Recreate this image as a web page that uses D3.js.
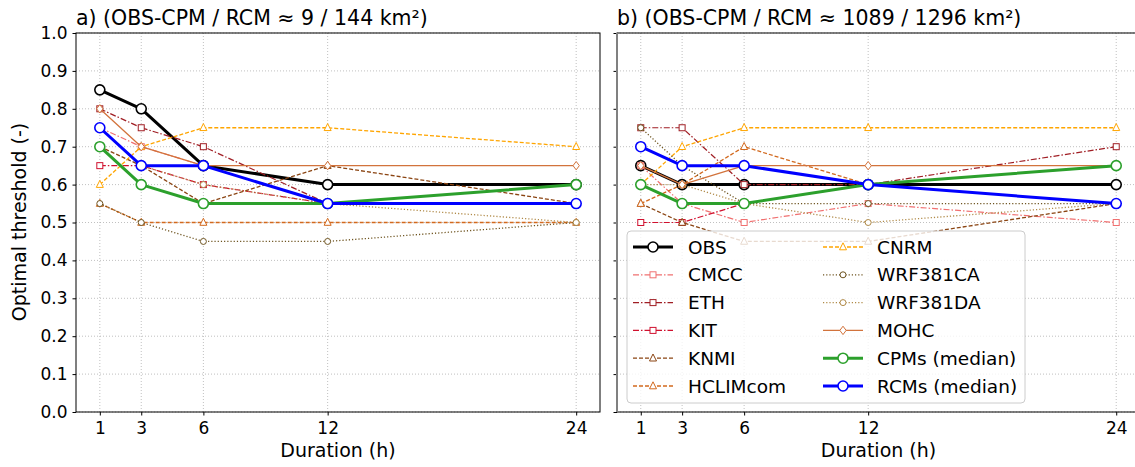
<!DOCTYPE html>
<html>
<head>
<meta charset="utf-8">
<script src="https://cdn.jsdelivr.net/npm/d3@7"></script>
<style>
  body { margin: 0; background: #fff; }
  svg { font-family: "DejaVu Sans", sans-serif; }
  .grid line { stroke: #b0b0b0; stroke-dasharray: 1,2; stroke-width: 0.8; }
</style>
</head>
<body>
<svg id="chart" width="1135" height="467"></svg>
<script>
// data
const durations = [1, 3, 6, 12, 24];
const yTicks = [0, 0.1, 0.2, 0.3, 0.4, 0.5, 0.6, 0.7, 0.8, 0.9, 1.0];
const titles = ["a) (OBS-CPM / RCM \u2248 9 / 144 km\u00b2)", "b) (OBS-CPM / RCM \u2248 1089 / 1296 km\u00b2)"];

const names = ["OBS", "CMCC", "ETH", "KIT", "KNMI", "HCLIMcom",
               "CNRM", "WRF381CA", "WRF381DA", "MOHC", "CPMs (median)", "RCMs (median)"];

// values for panel a and panel b, per series
const obsA   = [0.85, 0.80, 0.65, 0.60, 0.60];
const cmccA  = [0.75, 0.70, 0.65, 0.55, 0.55];
const ethA   = [0.80, 0.75, 0.70, 0.55, 0.55];
const kitA   = [0.65, 0.65, 0.60, 0.55, 0.55];
const knmiA  = [0.70, 0.65, 0.55, 0.65, 0.55];
const hclimA = [0.55, 0.50, 0.50, 0.50, 0.50];
const cnrmA  = [0.60, 0.70, 0.75, 0.75, 0.70];
const wrfcaA = [0.55, 0.50, 0.45, 0.45, 0.50];
const wrfdaA = [0.75, 0.65, 0.60, 0.55, 0.50];
const mohcA  = [0.80, 0.70, 0.65, 0.65, 0.65];
const cpmA   = [0.70, 0.60, 0.55, 0.55, 0.60];
const rcmA   = [0.75, 0.65, 0.65, 0.55, 0.55];

const obsB   = [0.65, 0.60, 0.60, 0.60, 0.60];
const cmccB  = [0.65, 0.55, 0.50, 0.55, 0.50];
const ethB   = [0.75, 0.75, 0.60, 0.60, 0.70];
const kitB   = [0.50, 0.50, 0.55, 0.60, 0.65];
const knmiB  = [0.55, 0.50, 0.45, 0.45, 0.55];
const hclimB = [0.55, 0.60, 0.70, 0.60, 0.65];
const cnrmB  = [0.60, 0.70, 0.75, 0.75, 0.75];
const wrfcaB = [0.75, 0.65, 0.55, 0.55, 0.55];
const wrfdaB = [0.60, 0.60, 0.55, 0.50, 0.55];
const mohcB  = [0.65, 0.60, 0.65, 0.65, 0.65];
const cpmB   = [0.60, 0.55, 0.55, 0.60, 0.65];
const rcmB   = [0.70, 0.65, 0.65, 0.60, 0.55];

const panelA = [obsA, cmccA, ethA, kitA, knmiA, hclimA, cnrmA, wrfcaA, wrfdaA, mohcA, cpmA, rcmA];
const panelB = [obsB, cmccB, ethB, kitB, knmiB, hclimB, cnrmB, wrfcaB, wrfdaB, mohcB, cpmB, rcmB];

// styles
const styles = [
  {color: "#000000", width: 3, dash: null, marker: "circle", size: 5},
  {color: "#f07070", width: 1.2, dash: "6,2,1.5,2", marker: "square", size: 3},
  {color: "#a01e24", width: 1.2, dash: "6,2,1.5,2", marker: "square", size: 3},
  {color: "#d0102e", width: 1.2, dash: "6,2,1.5,2", marker: "square", size: 3},
  {color: "#8b4513", width: 1.3, dash: "4,2", marker: "triangle", size: 3.5},
  {color: "#d2691e", width: 1.3, dash: "4,2", marker: "triangle", size: 3.5},
  {color: "#ffa500", width: 1.3, dash: "4,2", marker: "triangle", size: 3.5},
  {color: "#6e5420", width: 1.3, dash: "1.2,2", marker: "circle", size: 3},
  {color: "#b08a48", width: 1.3, dash: "1.2,2", marker: "circle", size: 3},
  {color: "#d2733c", width: 1.3, dash: null, marker: "diamond", size: 3.5},
  {color: "#2ca02c", width: 3, dash: null, marker: "circle", size: 5},
  {color: "#0000ff", width: 3, dash: null, marker: "circle", size: 5}
];

const svg = d3.select("#chart");
const plotTop = 33, plotBottom = 412;
const panels = [
  {left: 76, right: 600, data: panelA, labels: true},
  {left: 617, right: 1140, data: panelB, labels: false}
];

const y = d3.scaleLinear().domain([0, 1]).range([plotBottom, plotTop]);

function drawMarker(g, type, cx, cy, s, color, sw) {
  let m;
  if (type === "circle") {
    m = g.append("circle").attr("cx", cx).attr("cy", cy).attr("r", s);
  } else if (type === "square") {
    m = g.append("rect").attr("x", cx - s).attr("y", cy - s).attr("width", 2 * s).attr("height", 2 * s);
  } else if (type === "triangle") {
    m = g.append("path").attr("d", `M${cx},${cy - s * 1.2}L${cx + s},${cy + s * 0.8}L${cx - s},${cy + s * 0.8}Z`);
  } else {
    m = g.append("path").attr("d", `M${cx},${cy - s * 1.2}L${cx + s * 0.9},${cy}L${cx},${cy + s * 1.2}L${cx - s * 0.9},${cy}Z`);
  }
  m.attr("fill", "#fff").attr("stroke", color).attr("stroke-width", sw);
}

panels.forEach((p, pi) => {
  const x = d3.scaleLinear().domain([-0.15, 25.15]).range([p.left, p.right]);
  const g = svg.append("g");

  // grid
  const grid = g.append("g").attr("class", "grid");
  grid.selectAll(".gx").data(durations).join("line")
    .attr("x1", d => x(d)).attr("x2", d => x(d)).attr("y1", plotTop).attr("y2", plotBottom);
  grid.selectAll(".gy").data(yTicks).join("line")
    .attr("x1", p.left).attr("x2", p.right).attr("y1", d => y(d)).attr("y2", d => y(d));

  // series
  const line = d3.line().x((d, i) => x(durations[i])).y(d => y(d));
  p.data.forEach((vals, si) => {
    const st = styles[si];
    const sg = g.append("g");
    sg.append("path").datum(vals).attr("d", line)
      .attr("fill", "none").attr("stroke", st.color).attr("stroke-width", st.width)
      .attr("stroke-dasharray", st.dash).attr("stroke-linejoin", "round");
    vals.forEach((v, i) => drawMarker(sg, st.marker, x(durations[i]), y(v), st.size, st.color, st.width > 2 ? 1.6 : 1));
  });

  // axes
  const xAxis = d3.axisBottom(x).tickValues(durations).tickSize(3.5).tickPadding(6);
  const ax = g.append("g").attr("transform", `translate(0,${plotBottom})`).call(xAxis);
  ax.select(".domain").remove();
  ax.selectAll("text").attr("font-size", 17).attr("fill", "#000").attr("font-family", "DejaVu Sans");

  const yAxis = d3.axisLeft(y).tickValues(yTicks).tickSize(3.5).tickPadding(5)
    .tickFormat(p.labels ? d3.format(".1f") : () => "");
  const ay = g.append("g").attr("transform", `translate(${p.left},0)`).call(yAxis);
  ay.select(".domain").remove();
  ay.selectAll("text").attr("font-size", 17).attr("fill", "#000").attr("font-family", "DejaVu Sans");

  // frame
  g.append("rect").attr("x", p.left).attr("y", plotTop).attr("width", p.right - p.left).attr("height", plotBottom - plotTop)
    .attr("fill", "none").attr("stroke", "#000").attr("stroke-width", 1);
  if (pi === 1) {
    g.append("line").attr("x1", p.left).attr("x2", p.left).attr("y1", plotTop).attr("y2", plotBottom)
      .attr("stroke", "#808080").attr("stroke-width", 2);
  }

  g.append("text").attr("x", p.left).attr("y", 25).attr("font-size", 20.5).text(titles[pi]);
  g.append("text").attr("x", (p.left + p.right) / 2).attr("y", 457)
    .attr("text-anchor", "middle").attr("font-size", 19).text("Duration (h)");
});

svg.append("text").attr("transform", "translate(26,222) rotate(-90)")
  .attr("text-anchor", "middle").attr("font-size", 19).text("Optimal threshold (-)");

// legend
const leg = svg.append("g");
leg.append("rect").attr("x", 627).attr("y", 231).attr("width", 398).attr("height", 172)
  .attr("rx", 4).attr("fill", "#fff").attr("fill-opacity", 0.8).attr("stroke", "#cccccc");
names.forEach((n, i) => {
  const col = i < 6 ? 0 : 1;
  const row = i % 6;
  const hx = col === 0 ? 633 : 823;
  const tx = col === 0 ? 688 : 877;
  const cy = 247 + row * 27.8;
  const st = styles[i];
  leg.append("line").attr("x1", hx).attr("x2", hx + 40).attr("y1", cy).attr("y2", cy)
    .attr("stroke", st.color).attr("stroke-width", st.width).attr("stroke-dasharray", st.dash);
  drawMarker(leg, st.marker, hx + 20, cy, st.size, st.color, st.width > 2 ? 1.6 : 1);
  leg.append("text").attr("x", tx).attr("y", cy + 6.5).attr("font-size", 18.5).text(n);
});
</script>
</body>
</html>
